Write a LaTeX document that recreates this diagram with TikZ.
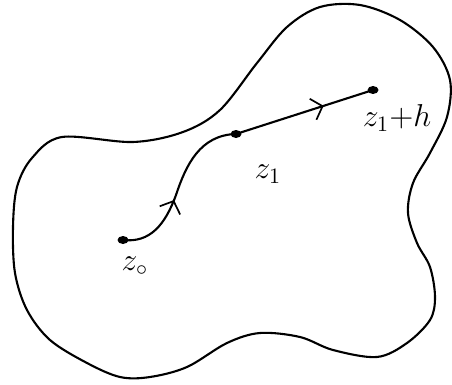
\documentclass[tikz,border=0pt]{standalone}
\usetikzlibrary{decorations.markings,arrows.meta,shapes.geometric}
\begin{document}
\begin{tikzpicture}[x=1pt,y=-1pt,
  curve/.style={line width=2.1pt,line cap=round,line join=round},
  dotpt/.style={ellipse,fill=black,inner sep=0pt,minimum width=11pt,minimum height=8pt},
  lbl/.style={font=\Large,scale=2.2},
  midarrow/.style={postaction={decorate},decoration={markings,mark=at position #1 with {\arrow{Straight Barb[length=10pt,width=22pt,line width=1.7pt]}}}}]
\useasboundingbox (0,0) rectangle (452,385);
\draw[curve] plot[smooth cycle,tension=0.55] coordinates {
 (360,5) (400,20) (433,47) (450,80) (447,117) (430,153) (413,183) (408,213) (417,243)
 (430,267) (435,297) (430,320) (407,343) (377,357) (333,350) (300,337) (260,333)
 (227,343) (187,367) (150,377) (120,377) (87,363) (50,340) (27,310) (15,273)
 (13,227) (17,187) (32,158) (62,137) (133,142) (183,132) (220,110) (257,63) (287,27) (320,7)};
\node[dotpt] (z0) at (123,240) {};
\node[dotpt] (z1) at (236,134) {};
\node[dotpt] (z2) at (373,90) {};
\draw[curve,midarrow=0.42] (z0.center) .. controls (150,243) and (165,225) .. (176,195)
  .. controls (186,165) and (200,135) .. (z1.center);
\draw[curve,midarrow=0.64] (z1.center) -- (z2.center);
\node[lbl] (l0) at (135,266) {$z_{\circ}$};
\node[lbl] (l1) at (268,174) {$z_1$};
\node[lbl] (l2) at (397,118) {$z_1{+}h$};
\end{tikzpicture}
\end{document}
